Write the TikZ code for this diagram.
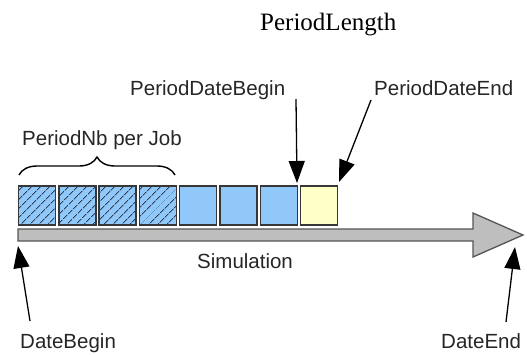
\documentclass[tikz,border=0pt]{standalone}
\usepackage{fontspec}
\setmainfont{Liberation Sans}
\newfontfamily\serifface{Liberation Serif}
\usetikzlibrary{patterns.meta,decorations.pathreplacing,arrows.meta}
\definecolor{boxblue}{RGB}{145,200,250}
\definecolor{boxyellow}{RGB}{255,255,200}
\definecolor{boxedge}{RGB}{55,55,55}
\definecolor{hatchcol}{RGB}{50,60,80}
\definecolor{simgray}{RGB}{190,190,190}
\definecolor{simedge}{RGB}{85,85,85}
\begin{document}
\begin{tikzpicture}[x=1pt,y=-1pt,
  lbl/.style={inner sep=0pt, anchor=base west, font=\fontsize{20.5}{24}\selectfont, text=black!85},
  box/.style={draw=boxedge, line width=1.5pt, minimum width=37pt, minimum height=39pt, inner sep=0pt, fill=boxblue},
  hatch/.style={postaction={pattern={Lines[angle=45,distance=6.5pt,line width=0.9pt]}, pattern color=hatchcol}},
  ptr/.style={-{Triangle[length=22pt,width=16pt]}, line width=1.3pt, draw=black}]
\useasboundingbox (0,0) rectangle (527,354);

% title
\node[inner sep=0pt, anchor=base west, font=\serifface\fontsize{25}{30}\selectfont] (plen) at (260,30) {PeriodLength};

% simulation arrow
\draw[draw=simedge, fill=simgray, line width=1.3pt, line join=miter]
  (18,229) -- (473,229) -- (473,213) -- (523,235) -- (473,257) -- (473,241) -- (18,241) -- cycle;
\node[lbl] (sim) at (197,268) {Simulation};

% boxes
\foreach \i in {1,...,4}{
  \node[box, hatch] (b\i) at ({37+40.3*(\i-1)},205.5) {};
}
\foreach \i in {5,6,7}{
  \node[box] (b\i) at ({37+40.3*(\i-1)},205.5) {};
}
\node[box, fill=boxyellow] (b8) at ({37+40.3*7},205.5) {};

% brace
\draw[line width=1.4pt, decorate, decoration={brace, amplitude=18pt}] (19,175) -- (175,175);
\node[lbl] (pnb) at (22,145) {PeriodNb per Job};

% labels
\node[lbl] (pdb) at (130,95) {PeriodDateBegin};
\node[lbl] (pde) at (374,95) {PeriodDateEnd};
\node[lbl] (db) at (20,348) {DateBegin};
\node[lbl] (de) at (441,348) {DateEnd};

% arrow ends
\coordinate (pdbTail) at (296,99);
\coordinate (pdbTip) at (297,183);
\coordinate (pdeTail) at (371,100);
\coordinate (pdeTip) at (339,182);
\coordinate (dbTail) at (30,321);
\coordinate (dbTip) at (18,246);
\coordinate (deTail) at (506,322);
\coordinate (deTip) at (515,247);

\draw[ptr] (pdbTail) -- (pdbTip);
\draw[ptr] (pdeTail) -- (pdeTip);
\draw[ptr] (dbTail) -- (dbTip);
\draw[ptr] (deTail) -- (deTip);
\end{tikzpicture}
\end{document}
